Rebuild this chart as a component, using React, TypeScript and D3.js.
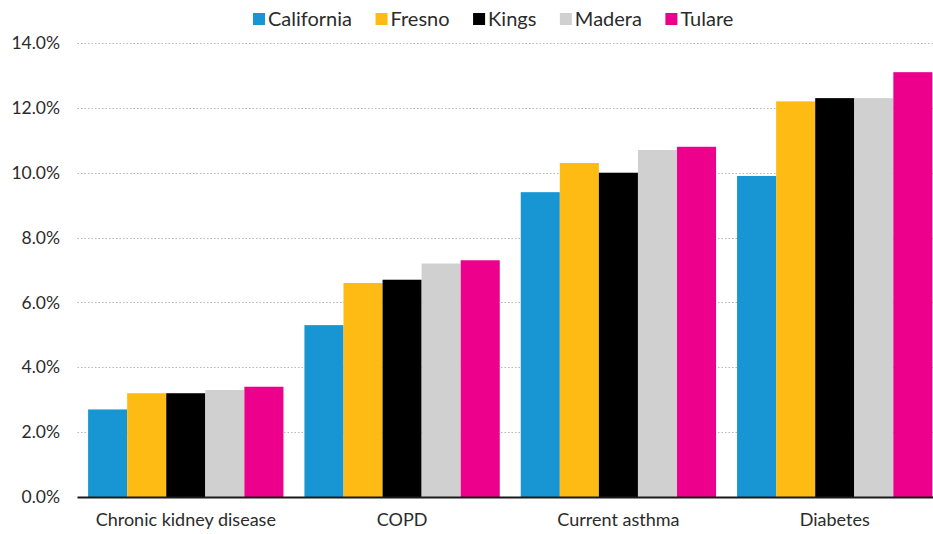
import { useRef, useEffect } from 'react';
import * as d3 from 'd3';

const categories = ['Chronic kidney disease', 'COPD', 'Current asthma', 'Diabetes'];
const seriesNames = ['California', 'Fresno', 'Kings', 'Madera', 'Tulare'];
const colors = ['#1896d3', '#fdbb13', '#000000', '#d0d0d0', '#ec008c'];

const california = [2.7, 5.3, 9.4, 9.9];
const fresno = [3.2, 6.6, 10.3, 12.2];
const kings = [3.2, 6.7, 10.0, 12.3];
const madera = [3.3, 7.2, 10.7, 12.3];
const tulare = [3.4, 7.3, 10.8, 13.1];

const yTicks = [0, 2, 4, 6, 8, 10, 12, 14];

const values = [california, fresno, kings, madera, tulare];

const App = () => {
  const ref = useRef<SVGSVGElement>(null);
  const width = 933;
  const height = 534;

  useEffect(() => {
    const svg = d3.select(ref.current);
    svg.selectAll('*').remove();
    const font = 'Lato, "Open Sans", sans-serif';

    const left = 77.5;
    const right = 943;
    const top = 43;
    const bottom = 497;

    const x = d3.scaleBand().domain(categories).range([left, right]).paddingInner(0.097).paddingOuter(0.049);
    const xs = d3.scaleBand().domain(seriesNames).range([0, x.bandwidth()]).padding(0);
    const y = d3.scaleLinear().domain([0, 14]).range([bottom, top]);

    // dotted grid
    svg
      .append('g')
      .selectAll('line')
      .data(yTicks.filter(d => d > 0))
      .enter()
      .append('line')
      .attr('x1', left)
      .attr('x2', width)
      .attr('y1', d => Math.round(y(d)) + 0.5)
      .attr('y2', d => Math.round(y(d)) + 0.5)
      .attr('stroke', '#b5b5b5')
      .attr('stroke-width', 1)
      .attr('stroke-dasharray', '1.5,2');

    // y tick labels
    svg
      .append('g')
      .selectAll('text')
      .data(yTicks)
      .enter()
      .append('text')
      .attr('x', 60)
      .attr('y', d => y(d))
      .attr('dy', '0.35em')
      .attr('text-anchor', 'end')
      .style('font-family', font)
      .style('font-size', '17.5px')
      .style('fill', '#2b2b2b')
      .text(d => d.toFixed(1) + '%');

    // bars, one group per county
    const groups = svg
      .append('g')
      .selectAll('g')
      .data(seriesNames)
      .enter()
      .append('g')
      .style('fill', (d, i) => colors[i]);

    groups
      .selectAll('rect')
      .data((s, i) => values[i].map((v, j) => ({ s, v, c: categories[j] })))
      .enter()
      .append('rect')
      .attr('x', d => (x(d.c) as number) + (xs(d.s) as number))
      .attr('width', xs.bandwidth())
      .attr('y', d => y(d.v))
      .attr('height', d => bottom - y(d.v));

    // baseline
    svg
      .append('line')
      .attr('x1', left)
      .attr('x2', width)
      .attr('y1', bottom + 0.5)
      .attr('y2', bottom + 0.5)
      .attr('stroke', '#1a1a1a')
      .attr('stroke-width', 2);

    // category labels
    svg
      .append('g')
      .selectAll('text')
      .data(categories)
      .enter()
      .append('text')
      .attr('x', d => (x(d) as number) + x.bandwidth() / 2)
      .attr('y', 526)
      .attr('text-anchor', 'middle')
      .style('font-family', font)
      .style('font-size', '18px')
      .style('fill', '#2b2b2b')
      .text(d => d);

    // legend
    const legend = svg.append('g').attr('transform', 'translate(253, 13)');
    let cursor = 0;
    seriesNames.forEach((name, i) => {
      const item = legend.append('g').attr('transform', `translate(${cursor}, 0)`);
      item.append('rect').attr('width', 12).attr('height', 12).style('fill', colors[i]);
      const t = item
        .append('text')
        .attr('x', 15)
        .attr('y', 6)
        .attr('dy', '0.35em')
        .style('font-family', font)
        .style('font-size', '20px')
        .style('fill', '#2b2b2b')
        .text(name);
      const w = (t.node() as SVGTextElement).getComputedTextLength();
      cursor += 15 + w + 23.5;
    });
  }, []);

  return (
    <div style={{ position: 'absolute', left: 0, top: 0, width, height }}>
      <svg ref={ref} width={width} height={height} style={{ display: 'block', background: '#fff' }} />
    </div>
  );
};

export default App;
